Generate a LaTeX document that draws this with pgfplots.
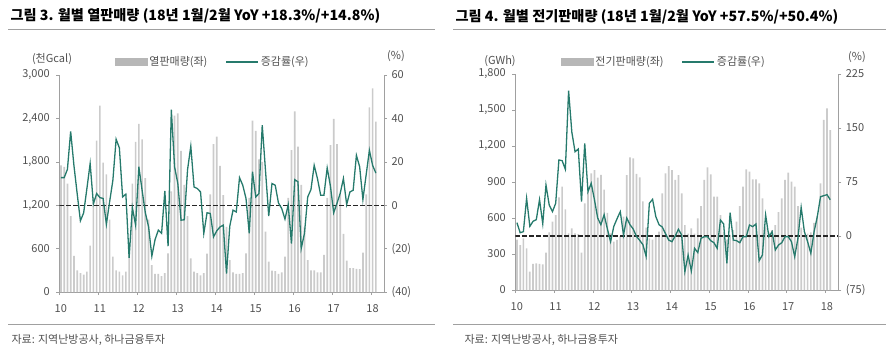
\documentclass[border=0pt]{standalone}
\usepackage{pgfplots}
\pgfplotsset{compat=1.18}
\usepackage{pgfplotstable}
\usepackage{fontspec}
\setmainfont{Noto Sans CJK KR}
\definecolor{teal1}{RGB}{38,122,108}
\definecolor{barg}{RGB}{203,203,203}
\definecolor{axg}{RGB}{160,160,160}
\definecolor{txt}{RGB}{80,80,80}

\pgfplotstableread{
x b g
0 1750 12.7
1 1730 12.7
2 1500 16.5
3 1050 34
4 500 18.4
5 300 5.4
6 260 -7.2
7 240 -3.5
8 280 7.7
9 640 19.2
10 1300 0.6
11 2092 5.4
12 2576 3.5
13 1788 3.1
14 1626 -8.8
15 1000 1.6
16 488 11.5
17 300 30.4
18 280 26.4
19 230 3.8
20 280 5.1
21 650 -24.3
22 1500 -1.1
23 2074 -9.2
24 2323 17.7
25 2111 6.9
26 1574 -3.5
27 1000 -10
28 373 -23.5
29 250 -15.8
30 250 -11.5
31 220 -13
32 260 6.6
33 535 -18.9
34 1390 44
35 2438 17.7
36 2470 10
37 1950 -6.9
38 1480 -6.7
39 1050 16.4
40 466 27.2
41 280 8.4
42 260 7.7
43 230 6.1
44 260 -13
45 530 -3.5
46 1350 -3.8
47 2046 -14.6
48 2147 -11.8
49 1742 -10
50 1341 -9.2
51 900 -31.5
52 442 -9.7
53 270 -2.3
54 250 -3.1
55 250 12.7
56 260 9.2
57 535 3.1
58 1300 -13
59 2369 15.4
60 2226 3.8
61 1834 5.4
62 1800 36.9
63 834 16.1
64 419 -5
65 295 10
66 290 9.2
67 250 1
68 270 -1.5
69 490 -6.4
70 1300 0.2
71 1963 -17.7
72 2498 11.8
73 2009 10.8
74 1480 -20
75 900 -13
76 442 3.8
77 300 7.2
78 300 18.4
79 270 12.3
80 270 4.6
81 512 4.6
82 1300 17.2
83 2032 8.8
84 2392 -3.5
85 2046 0.8
86 1350 5.4
87 802 12.3
88 433 0.3
89 330 6.1
90 330 6.9
91 320 23
92 315 17.7
93 544 2.6
94 1350 14
95 2553 25.3
96 2816 18.3
97 2355 14.8
}\heat

\pgfplotstableread{
x b g
0 420 18.5
1 375 4.6
2 430 6
3 347 52.3
4 153 13.4
5 217 20.4
6 222 22.7
7 217 50.5
8 214 17.1
9 311 70.8
10 481 43
11 570 33.8
12 625 45.4
13 772 105.6
14 861 104.6
15 672 92.6
16 472 201.8
17 514 144.4
18 472 117
19 465 120.8
20 311 47.7
21 722 128.7
22 819 61.6
23 972 73.2
24 1000 50.5
25 936 25
26 960 15.7
27 836 29.6
28 642 10
29 472 -7.9
30 403 13.4
31 417 24
32 450 33.8
33 611 1.4
34 958 25
35 1106 15.7
36 1097 9.7
37 967 -0.5
38 939 -6
39 739 -12
40 520 -28.2
41 430 45.4
42 420 51
43 450 26.9
44 486 15.7
45 806 12.5
46 972 3.2
47 1033 -5.6
48 1000 -7.9
49 917 0
50 958 9.3
51 806 1.4
52 540 -49.5
53 470 -26.4
54 514 -48.6
55 470 -17.1
56 597 -23
57 700 -3.2
58 917 -0.9
59 1022 -0.9
60 964 -6.5
61 778 -9.3
62 778 -17.1
63 625 22.2
64 480 16.7
65 420 -37.9
66 460 32.4
67 500 -5.6
68 569 -6.5
69 700 -9.3
70 861 -0.9
71 1006 -0.9
72 986 15.3
73 922 13
74 922 16.7
75 889 -34.3
76 764 -26.4
77 520 29.2
78 480 -0.9
79 500 6
80 540 -19.4
81 650 -12.5
82 764 -9.3
83 917 -0.9
84 978 -0.9
85 903 -7.9
86 861 -28.7
87 700 -3.2
88 520 39.8
89 460 6
90 470 -7.9
91 480 -24.1
92 560 6
93 620 26.9
94 889 54.6
95 1417 56
96 1514 57.5
97 1333 50.4
}\elec

\pgfplotsset{
  base/.style={
    scale only axis,
    anchor=south west,
    xmin=-0.5, xmax=99.5,
    tick align=outside,
    major tick length=3pt,
    tick style={axg, line width=0.6pt},
    axis line style={axg, line width=0.8pt},
    tick label style={font=\fontsize{11}{12}\selectfont, text=txt},
    /pgf/number format/assume math mode=true,
  },
  leftax/.style={
    base,
    axis y line*=left,
    axis x line*=bottom,
    xtick={-0.5,11.5,...,95.5},
    xticklabels={10,11,12,13,14,15,16,17,18},
    xticklabel style={yshift=-6pt, xshift=1.5pt},
    yticklabel style={xshift=-3pt},
  },
  rightax/.style={
    base,
    axis y line*=right,
    axis x line=none,
    yticklabel style={xshift=1pt},
    legend columns=2,
    legend style={draw=none, fill=none, anchor=west,
      font=\fontsize{11}{12}\selectfont, text=txt,
      /tikz/every even column/.append style={column sep=16pt},
      inner sep=0pt},
  },
}

\begin{document}
\begin{tikzpicture}
\useasboundingbox (0pt,0pt) rectangle (886pt,362pt);

% ---------- Left chart ----------
\node[anchor=west, font=\fontsize{14.2}{16}\selectfont\bfseries] at (7pt,346pt) {그림 3. 월별 열판매량 (18년 1월/2월 YoY +18.3\%/+14.8\%)};
\draw[axg, line width=0.8pt] (8pt,332.5pt) -- (435pt,332.5pt);
\draw[axg, line width=0.8pt] (8pt,38pt) -- (435pt,38pt);
\node[anchor=west, font=\fontsize{11}{12}\selectfont, text=txt] at (8pt,22pt) {자료: 지역난방공사, 하나금융투자};
\node[font=\fontsize{11}{12}\selectfont, text=txt] at (52pt,303pt) {(천Gcal)};
\node[font=\fontsize{11}{12}\selectfont, text=txt] at (396pt,306pt) {(\%)};

\begin{axis}[leftax, at={(59.3pt,70pt)}, width=324.7pt, height=217pt,
  ymin=0, ymax=3000, ytick={0,600,1200,1800,2400,3000},
  yticklabels={0,600,{1,200},{1,800},{2,400},{3,000}}]
\addplot[ybar, bar width=1.7pt, fill=barg, draw=none] table[x=x,y=b] {\heat};
\end{axis}
\begin{axis}[rightax, at={(59.3pt,70pt)}, width=324.7pt, height=217pt,
  ymin=-40, ymax=60, ytick={-40,-20,0,20,40,60},
  yticklabels={(40),(20),0,20,40,60},
  legend style={at={(axis description cs:0.171,1.06)}}]
\addlegendimage{legend image code/.code={\fill[barg!90!black] (0pt,-3.5pt) rectangle (32pt,3.5pt);}}
\addlegendentry{열판매량(좌)}
\addlegendimage{legend image code/.code={\draw[teal1, line width=1.3pt] (0pt,0pt) -- (32pt,0pt);}}
\addlegendentry{증감률(우)}
\addplot[black!85, line width=1.2pt, dash pattern=on 4.5pt off 2.5pt, forget plot] coordinates {(-0.5,0) (99.5,0)};
\addplot[teal1, line width=1.3pt, forget plot] table[x=x,y=g] {\heat};
\end{axis}

% ---------- Right chart ----------
\node[anchor=west, font=\fontsize{14.2}{16}\selectfont\bfseries] at (452pt,345pt) {그림 4. 월별 전기판매량 (18년 1월/2월 YoY +57.5\%/+50.4\%)};
\draw[axg, line width=0.8pt] (453pt,332.5pt) -- (886pt,332.5pt);
\draw[axg, line width=0.8pt] (453pt,38pt) -- (886pt,38pt);
\node[anchor=west, font=\fontsize{11}{12}\selectfont, text=txt] at (461pt,22pt) {자료: 지역난방공사, 하나금융투자};
\node[font=\fontsize{11}{12}\selectfont, text=txt] at (500pt,301pt) {(GWh)};
\node[font=\fontsize{11}{12}\selectfont, text=txt] at (857pt,305pt) {(\%)};

\begin{axis}[leftax, at={(515.3pt,72pt)}, width=323pt, height=216pt,
  ymin=0, ymax=1800, ytick={0,300,600,900,1200,1500,1800},
  yticklabels={0,300,600,900,{1,200},{1,500},{1,800}}]
\addplot[ybar, bar width=1.7pt, fill=barg, draw=none] table[x=x,y=b] {\elec};
\end{axis}
\begin{axis}[rightax, at={(515.3pt,72pt)}, width=323pt, height=216pt,
  ymin=-75, ymax=225, ytick={-75,0,75,150,225},
  yticklabels={(75),0,75,150,225},
  legend style={at={(axis description cs:0.141,1.056)}}]
\addlegendimage{legend image code/.code={\fill[barg!90!black] (0pt,-3.5pt) rectangle (32pt,3.5pt);}}
\addlegendentry{전기판매량(좌)}
\addlegendimage{legend image code/.code={\draw[teal1, line width=1.3pt] (0pt,0pt) -- (32pt,0pt);}}
\addlegendentry{증감률(우)}
\addplot[black!85, line width=1.2pt, dash pattern=on 4.5pt off 2.5pt, forget plot] coordinates {(-0.5,0) (99.5,0)};
\addplot[teal1, line width=1.3pt, forget plot] table[x=x,y=g] {\elec};
\end{axis}
\end{tikzpicture}
\end{document}
